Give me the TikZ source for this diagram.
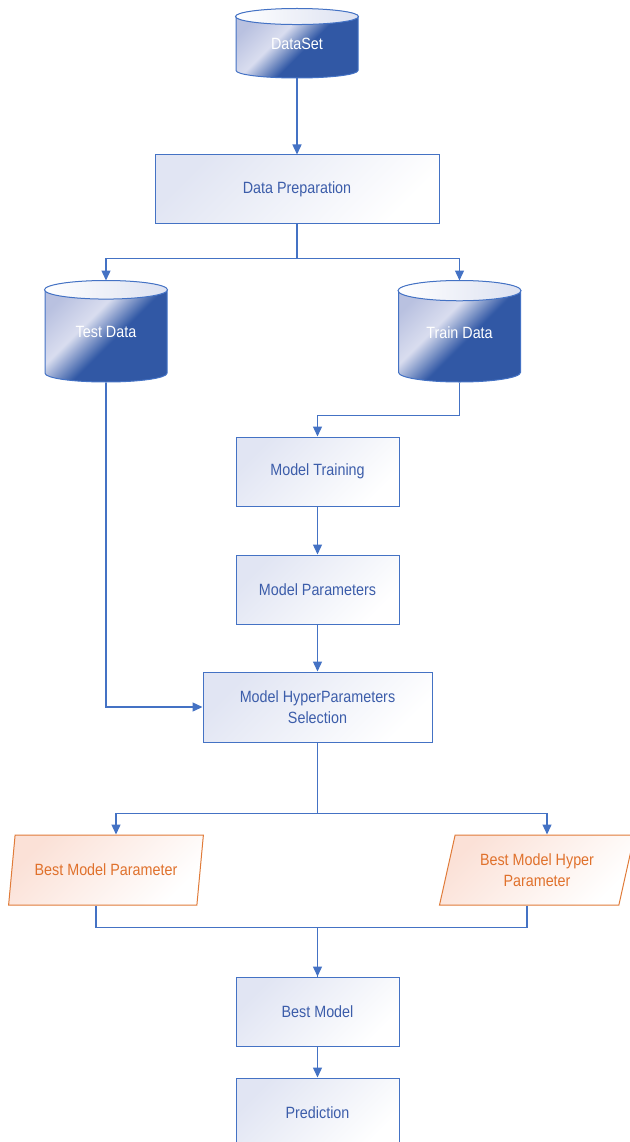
\documentclass[tikz,border=0pt]{standalone}
\usepackage{fontspec}
\setmainfont{Liberation Sans}[FakeStretch=0.88]
\usetikzlibrary{arrows.meta, calc, positioning, shapes.geometric}
\definecolor{lineblue}{HTML}{4472C4}
\definecolor{textblue}{HTML}{3C5DAA}
\definecolor{boxtint}{HTML}{E1E5F3}
\definecolor{dbdark}{HTML}{3158A5}
\definecolor{dbshine}{HTML}{D9DDEF}
\definecolor{dbcorner}{HTML}{B9C1E0}
\definecolor{dbrim}{HTML}{DCE1F1}
\definecolor{ioline}{HTML}{E07B39}
\definecolor{iotext}{HTML}{E0712C}
\definecolor{iotint}{HTML}{FBE1D7}
\pgfdeclareverticalshading{dbgloss}{100bp}{color(0bp)=(dbdark); color(25bp)=(dbdark);
    color(45bp)=(dbdark); color(59bp)=(dbshine); color(75bp)=(dbcorner); color(100bp)=(dbcorner)}
\newcommand{\chartfont}{\fontsize{16.3}{21.5}\selectfont}
\tikzset{
    proc/.style={
        rectangle, draw=lineblue, line width=1pt,
        minimum width=163pt, minimum height=69pt,
        inner sep=2pt, align=center,
        text=textblue, font=\chartfont,
        top color=boxtint, middle color=white, bottom color=white,
        shading angle=45
    },
    db/.style={
        cylinder, shape border rotate=90, shape aspect=0.29,
        anchor=shape center,
        draw=lineblue, line width=1pt,
        minimum width=122pt, minimum height=101pt,
        inner sep=0pt, text height=12pt, text depth=9pt,
        text=white, font=\chartfont,
        shading=dbgloss, shading angle=45
    },
    rim/.style={
        draw=lineblue, line width=1pt,
        left color=white, right color=dbrim
    },
    io/.style={
        trapezium, trapezium left angle=74, trapezium right angle=106,
        trapezium stretches=true,
        minimum width=195pt, minimum height=70pt,
        draw=ioline, line width=1pt, align=center,
        text=iotext, font=\chartfont,
        top color=iotint, middle color=white, bottom color=white,
        shading angle=45
    },
    conn/.style={
        draw=lineblue, line width=1.4pt,
        -{Triangle[length=10pt, width=9pt]}
    },
    link/.style={
        draw=lineblue, line width=1.4pt
    },
}
\begin{document}
\begin{tikzpicture}[x=1pt, y=-1pt]
    \useasboundingbox (0,0) rectangle (629,1142);

    \node[db, minimum height=69pt] (ds) at (297,43.5) {DataSet};
    \node[proc, minimum width=284pt, minimum height=68pt] (prep) at (297,189) {Data Preparation};
    \node[db] (test) at (106,331.5) {Test Data};
    \node[db] (train) at (459.5,331.5) {Train Data};
    \node[proc] (mtrain) at (317.5,471.5) {Model Training};
    \node[proc] (mparam) at (317.5,589.5) {Model Parameters};
    \node[proc, minimum width=229pt, minimum height=70pt] (sel) at (317.5,707) {Model HyperParameters\\Selection};
    \node[io] (bmp) at (106,870) {Best Model Parameter};
    \node[io] (bmhp) at (537,870) {Best Model Hyper\\Parameter};
    \node[proc] (best) at (317.5,1011.5) {Best Model};
    \node[proc] (pred) at (317.5,1112.5) {Prediction};

    % top ends of the data stores
    \foreach \s in {ds, test, train}
        \draw[rim] let \p1=($(\s.before top)!.5!(\s.after top)$), \p2=(\s.top),
            \p3=(\s.before top), \p4=(\s.after top) in
            (\p1) ellipse [x radius={abs(\x3-\x4)/2}, y radius={\y2-\y1}];

    \foreach \i/\j in {ds/prep, mtrain/mparam, mparam/sel, best/pred}
        \draw[conn] (\i)--(\j);

    \draw[conn] (prep.south) --++(0,35) -| (test.top);
    \draw[conn] (prep.south) --++(0,35) -| (train.top);
    \draw[conn] (train.bottom) --++(0,33) -| (mtrain.north);
    \draw[conn] (test.bottom) |- (sel.west);

    \draw[conn] (sel.south) --++(0,71) -| ([xshift=10pt]bmp.north);
    \draw[conn] (sel.south) --++(0,71) -| ([xshift=10pt]bmhp.north);

    \draw[conn] ([xshift=-10pt]bmp.south) --++(0,22) -| (best.north);
    \draw[link] ([xshift=-10pt]bmhp.south) --++(0,22) -| (best.north);
\end{tikzpicture}
\end{document}
